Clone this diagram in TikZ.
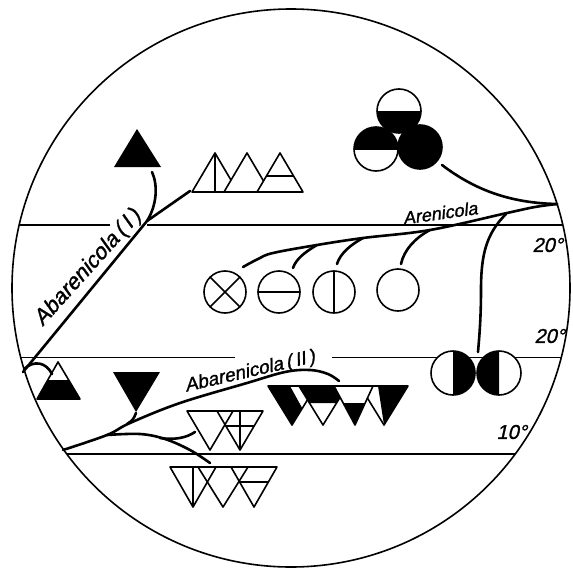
\documentclass[tikz,border=0pt]{standalone}
\usepackage{fontspec}
\setmainfont{Liberation Sans}
\newfontfamily\lblfont{Liberation Sans}[FakeSlant=0.22,FakeBold=1.2]
\begin{document}
\begin{tikzpicture}[x=1pt,y=-1pt,
  br/.style={line width=2.6pt,line cap=round},
  hl/.style={line width=1.2pt},
  ol/.style={line width=1.6pt,line join=round},
  lbl/.style={inner sep=0pt},
  deg/.style={inner sep=0pt,anchor=east,font=\lblfont\fontsize{20}{20}\selectfont}]
\useasboundingbox (0,0) rectangle (573,570);
% outer circle and level lines
\draw[line width=1.6pt] (291,288) circle[radius=279];
\begin{scope}
  \clip (291,288) circle[radius=279];
  \draw[hl] (0,225) -- (110,225);
  \draw[hl] (147,225) -- (573,225);
  \draw[hl] (0,357.5) -- (235,357.5);
  \draw[hl] (332,357.5) -- (573,357.5);
  \draw[hl] (0,454) -- (573,454);
\end{scope}
% labels
\node[lbl,font=\lblfont\fontsize{18}{18}\selectfont,rotate=8] (aren) at (440,213) {Arenicola};
\node[lbl,font=\lblfont\fontsize{22}{22}\selectfont,rotate=48] (abaI) at (88,268) {Abarenicola\,(\,I\,)};
\node[lbl,font=\lblfont\fontsize{19}{19}\selectfont,rotate=13] (abaII) at (250,372) {Abarenicola\,(\,II\,)};
\node[deg] (d1) at (563,245) {20°};
\node[deg] (d2) at (565,336) {20°};
\node[deg] (d3) at (527,432) {10°};
% Abarenicola (I)
\draw[br] (23,372) -- (147,221) -- (190,191);
\draw[br] (147,221) .. controls (157,205) and (158,185) .. (152,172);
\draw[br] (24,369) .. controls (34,360) and (46,362) .. (52,374);
\fill (137,129) -- (114,167) -- (161,167) -- cycle;
\draw[ol,fill=white] (215,153) -- (192,192) -- (238,192) -- cycle;
\draw[ol] (215,153) -- (215,192);
\draw[ol,fill=white] (247,153) -- (224,192) -- (270,192) -- cycle;
\draw[ol,fill=white] (280,153) -- (257,192) -- (303,192) -- cycle;
\draw[ol] (266,176) -- (294,176);
% Arenicola
\draw[br] plot[smooth,tension=0.6] coordinates {(243,267) (258,259) (273,253) (317,245) (363,238) (430,230) (507,213) (535,207) (557,204)};
\draw[br] (442,165) .. controls (475,190) and (510,203) .. (557,204);
\draw[br] (317,245) .. controls (305,252) and (296,259) .. (293,268);
\draw[br] (363,238) .. controls (350,245) and (340,254) .. (337,264);
\draw[br] (430,230) .. controls (415,238) and (404,250) .. (401,264);
\draw[br] (506,214) .. controls (486,234) and (481,255) .. (481,290) .. controls (481,320) and (479,340) .. (478,352);
% top circle group
\fill[white] (399,111) circle[radius=22];
\begin{scope}\clip (377,111) rectangle (421,134); \fill (399,111) circle[radius=22]; \end{scope}
\draw[ol] (399,111) circle[radius=22];
\fill[white] (376,149) circle[radius=22];
\begin{scope}\clip (354,127) rectangle (398,149); \fill (376,149) circle[radius=22]; \end{scope}
\draw[ol] (376,149) circle[radius=22];
\filldraw[ol] (420,147) circle[radius=22];
% four circles
\draw[ol,fill=white] (225,292) circle[radius=21];
\draw[ol] (210.2,277.2) -- (239.8,306.8) (210.2,306.8) -- (239.8,277.2);
\draw[ol,fill=white] (279,292) circle[radius=21];
\draw[ol] (258,292) -- (300,292);
\draw[ol,fill=white] (334,292) circle[radius=21];
\draw[ol] (334,271) -- (334,313);
\draw[ol,fill=white] (398,290) circle[radius=21];
% half circles
\fill[white] (453,373) circle[radius=22];
\begin{scope}\clip (453,350) rectangle (476,396); \fill (453,373) circle[radius=22]; \end{scope}
\draw[ol] (453,373) circle[radius=22];
\fill[white] (499,373) circle[radius=22];
\begin{scope}\clip (476,350) rectangle (499,396); \fill (499,373) circle[radius=22]; \end{scope}
\draw[ol] (499,373) circle[radius=22];
% Abarenicola (II)
\draw[br] plot[smooth,tension=0.6] coordinates {(63,450) (107,435) (130,423) (180,403) (247,383) (285,372) (310,370) (328,374) (339,381)};
\draw[br] (127,424) .. controls (133,420) .. (136,413);
\draw[br] plot[smooth,tension=0.6] coordinates {(107,435) (140,434) (165,439) (190,450) (210,463)};
\draw[br] (160,438) .. controls (175,440) and (186,438) .. (195,432);
% bw triangle and black triangle
\fill (47.8,380) -- (68.7,380) -- (80,399) -- (37,399) -- cycle;
\draw[ol] (58,362) -- (37,399) -- (80,399) -- cycle;
\fill (113,372) -- (160,372) -- (136,412) -- cycle;
% middle row
\draw[ol] (187,411) -- (233,411) -- (210,450) -- cycle;
\draw[ol] (217,411) -- (263,411) -- (240,450) -- cycle;
\draw[ol] (240,411) -- (240,450);
\draw[ol] (226,426) -- (254,426);
% bottom row
\draw[ol] (170,467) -- (216,467) -- (193,507) -- cycle;
\draw[ol] (193,467) -- (193,507);
\draw[ol] (198,467) -- (248,467) -- (223,507) -- cycle;
\draw[ol] (231,467) -- (277,467) -- (254,507) -- cycle;
\draw[ol] (239.6,482) -- (268.4,482);
% black/white row
\fill[white] (268,386) -- (316,386) -- (292,425) -- cycle;
\fill (268,386) -- (290,386) -- (302.3,408.3) -- (292,425) -- cycle;
\draw[ol] (268,386) -- (316,386) -- (292,425) -- cycle;
\fill[white] (360,386) -- (408,386) -- (384,425) -- cycle;
\fill (378,386) -- (408,386) -- (384,425) -- cycle;
\draw[ol] (360,386) -- (408,386) -- (384,425) -- cycle;
\fill[white] (299,386) -- (347,386) -- (323,425) -- cycle;
\fill (299,386) -- (347,386) -- (336.5,403) -- (309.5,403) -- cycle;
\draw[ol] (299,386) -- (347,386) -- (323,425) -- cycle;
\fill[white] (334,386) -- (373,386) -- (355,425) -- cycle;
\fill (343.3,403) -- (365.1,403) -- (355,425) -- cycle;
\draw[ol] (334,386) -- (373,386) -- (355,425) -- cycle;
\end{tikzpicture}
\end{document}
